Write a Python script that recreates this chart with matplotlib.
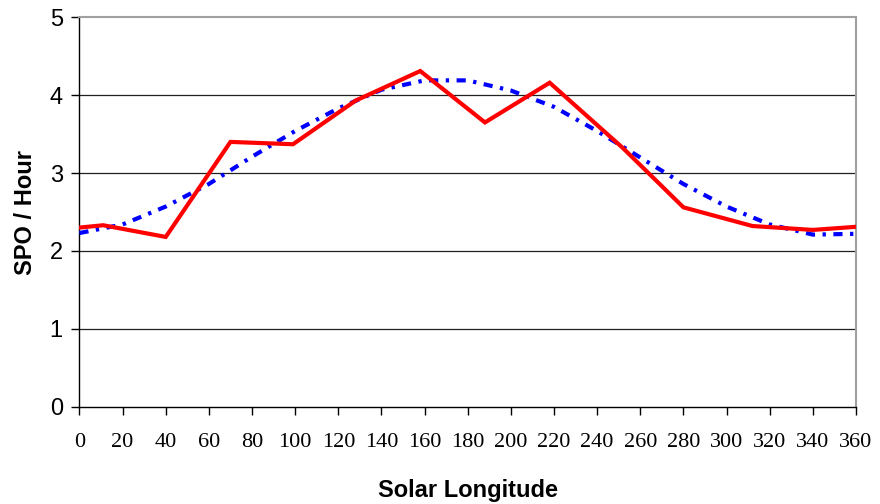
import matplotlib
matplotlib.use('Agg')
from matplotlib import pyplot as plt

# observed SPO rate per month
obs_lon = [0, 11, 40, 70, 99, 128, 158, 188, 218, 252, 280, 312, 340, 360]
obs_rate = [2.30, 2.33, 2.18, 3.40, 3.37, 3.93, 4.31, 3.65, 4.16, 3.32, 2.56, 2.32, 2.27, 2.31]

# fitted curve
fit_lon = [0, 20, 40, 60, 80, 100, 120, 140, 160, 180, 200, 220, 240, 260, 280, 300, 320, 340, 360]
fit_rate = [2.23, 2.34, 2.57, 2.86, 3.21, 3.54, 3.83, 4.07, 4.19, 4.19, 4.06, 3.85, 3.54, 3.20,
            2.86, 2.57, 2.34, 2.21, 2.22]

x_ticks = list(range(0, 361, 20))
y_ticks = [0, 1, 2, 3, 4, 5]

fig = plt.figure(figsize=(8.8, 5.04), dpi=100)
ax = fig.add_axes([0.0903, 0.193, 0.8824, 0.7727])

for y in y_ticks[1:-1]:
    ax.axhline(y, color='#202020', lw=0.9, zorder=1)

ax.plot(fit_lon, fit_rate, color='#0000ff', lw=3.0, dashes=(2.2, 1.8, 0.8, 1.8),
        dash_capstyle='butt', zorder=3)
ax.plot(obs_lon, obs_rate, color='#ff0000', lw=3.0, solid_joinstyle='miter', zorder=4)

ax.set_xlim(0, 360)
ax.set_ylim(0, 5)
ax.set_xticks(x_ticks)
ax.set_yticks(y_ticks)
ax.set_xticklabels([str(t) for t in x_ticks], family='Liberation Serif', fontsize=16)
ax.set_yticklabels([str(t) for t in y_ticks], family='Liberation Sans', fontsize=17)
ax.tick_params(axis='x', direction='out', length=6, width=1, pad=13, color='black')
ax.tick_params(axis='y', direction='out', length=6, width=1, pad=6, color='black')

for side in ('left', 'bottom'):
    ax.spines[side].set_color('black')
    ax.spines[side].set_linewidth(1)
for side in ('top', 'right'):
    ax.spines[side].set_color('#a0a0a0')
    ax.spines[side].set_linewidth(1.5)

ax.set_xlabel('Solar Longitude', family='Liberation Sans', fontweight='bold',
              fontsize=17, labelpad=19)
ax.set_ylabel('SPO / Hour', family='Liberation Sans', fontweight='bold',
              fontsize=17, labelpad=9)

fig.savefig('out.png', dpi=100)
